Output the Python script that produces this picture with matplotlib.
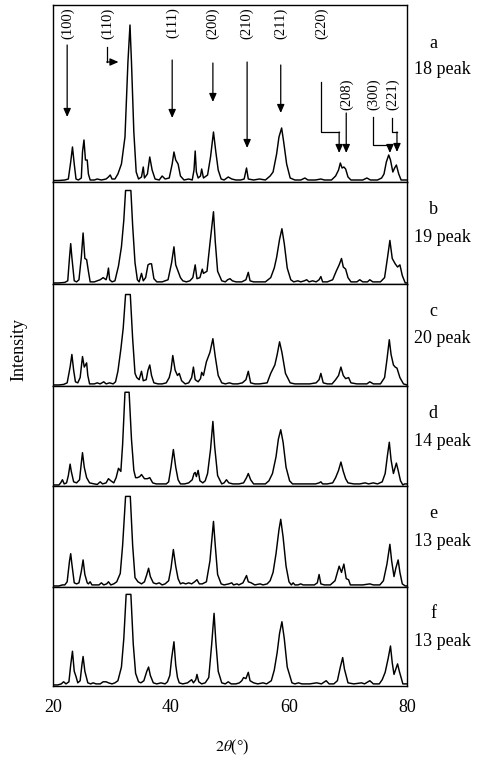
import numpy as np
import matplotlib
matplotlib.use("Agg")
import matplotlib.pyplot as plt

plt.rcParams['font.family'] = ['Liberation Serif', 'DejaVu Serif']
plt.rcParams['mathtext.fontset'] = 'stix'

patron_a = [
    (20.0, 1.5), (21.0, 1.5), (22.0, 2), (22.6, 3), (23.0, 20), (23.3, 35), (23.6, 18),
    (23.9, 3), (24.3, 2), (24.8, 4), (25.0, 30), (25.25, 42), (25.5, 22), (25.8, 22),
    (26.0, 8), (26.3, 2), (27.0, 2), (27.5, 3), (28.2, 2), (29.0, 3), (29.4, 5), (29.7, 7),
    (30.0, 3), (30.5, 3), (31.0, 8), (31.6, 18), (32.2, 45), (32.7, 120), (33.05, 157),
    (33.3, 120), (33.7, 50), (34.1, 10), (34.5, 3), (35.0, 5), (35.3, 15), (35.5, 4),
    (36.0, 8), (36.4, 25), (36.8, 12), (37.3, 3), (38.0, 2), (38.5, 6), (39.0, 3),
    (39.7, 4), (40.2, 18), (40.5, 30), (40.8, 22), (41.2, 18), (41.6, 6), (42.2, 2),
    (43.0, 3), (43.6, 2), (43.9, 12), (44.1, 31), (44.3, 10), (44.6, 4), (45.0, 6),
    (45.2, 13), (45.5, 4), (46.2, 7), (46.7, 25), (47.2, 50), (47.6, 30), (48.0, 12),
    (48.5, 3), (49.0, 2), (49.7, 5), (50.3, 3), (51.0, 2), (51.8, 2), (52.4, 3),
    (52.8, 14), (53.1, 3), (54.0, 2), (55.0, 3), (56.0, 2), (56.8, 6), (57.3, 10),
    (57.9, 28), (58.3, 45), (58.75, 54), (59.1, 40), (59.6, 18), (60.2, 4), (61.0, 2),
    (62.0, 2), (62.7, 4), (63.2, 2), (64.5, 2), (65.4, 3), (66.0, 2), (67.2, 2),
    (67.9, 6), (68.4, 12), (68.7, 19), (69.0, 14), (69.3, 15), (69.6, 13), (70.0, 5),
    (70.5, 2), (71.5, 2), (72.5, 2), (73.2, 4), (73.8, 2), (75.0, 2), (75.7, 4),
    (76.1, 8), (76.5, 20), (76.9, 27), (77.2, 22), (77.6, 10), (77.9, 14), (78.2, 17),
    (78.6, 8), (79.0, 2), (79.6, 2), (80.0, 2),
]

patron_b = [
    (20.0, 1), (21.0, 1), (22.0, 1.5), (22.5, 3), (22.8, 25), (23.0, 38), (23.2, 25),
    (23.6, 3), (24.0, 2), (24.4, 4), (24.8, 25), (25.1, 48), (25.4, 24), (25.7, 23),
    (26.0, 12), (26.3, 2), (27.0, 2), (27.5, 3), (28.0, 4), (28.5, 6), (29.0, 4),
    (29.2, 8), (29.4, 15), (29.6, 4), (30.0, 2), (30.5, 3), (31.1, 17), (31.6, 35),
    (32.0, 60), (32.3, 88), (33.2, 88), (33.5, 55), (33.9, 20), (34.3, 4), (34.6, 2),
    (35.0, 10), (35.3, 3), (35.7, 6), (36.1, 18), (36.4, 19), (36.7, 19), (37.1, 5),
    (37.6, 2), (38.5, 2), (39.0, 3), (39.5, 4), (40.1, 20), (40.5, 35), (40.8, 18),
    (41.2, 12), (41.6, 6), (42.0, 3), (42.6, 2), (43.2, 3), (43.7, 6), (44.1, 18),
    (44.4, 5), (44.9, 6), (45.3, 14), (45.5, 10), (46.1, 12), (46.6, 38), (47.2, 68),
    (47.5, 40), (47.9, 12), (48.6, 3), (49.2, 2), (49.6, 4), (50.0, 5), (50.4, 3),
    (51.0, 2), (52.0, 2), (52.7, 4), (53.1, 11), (53.4, 3), (54.0, 2), (55.0, 2),
    (56.0, 2), (56.9, 6), (57.5, 15), (57.9, 25), (58.4, 42), (58.8, 52), (59.2, 38),
    (59.7, 15), (60.3, 4), (60.8, 2), (61.5, 3), (62.0, 2), (62.6, 3), (63.0, 4),
    (63.4, 2), (64.0, 3), (64.6, 2), (65.1, 4), (65.4, 7), (65.7, 2), (66.5, 2),
    (67.4, 4), (68.0, 12), (68.5, 18), (68.9, 24), (69.2, 16), (69.6, 14), (70.0, 6),
    (70.5, 2), (71.5, 2), (72.0, 4), (72.5, 2), (73.3, 2), (73.7, 4), (74.2, 2),
    (75.5, 2), (76.2, 6), (76.7, 25), (77.1, 41), (77.5, 24), (78.0, 19), (78.4, 16),
    (78.8, 18), (79.2, 8), (79.7, 1), (80.0, 1),
]

patron_c = [
    (20.0, 1), (21.0, 1), (21.8, 1.5), (22.4, 3), (22.9, 18), (23.2, 30), (23.5, 15),
    (23.8, 4), (24.2, 3), (24.6, 8), (25.0, 28), (25.3, 18), (25.7, 22), (25.9, 10),
    (26.2, 2), (27.0, 2), (27.5, 3), (28.0, 2), (28.6, 4), (29.0, 2), (29.6, 3),
    (30.2, 2), (30.6, 4), (31.0, 14), (31.5, 35), (31.9, 55), (32.3, 87), (33.1, 87),
    (33.5, 45), (33.9, 12), (34.2, 8), (34.6, 6), (35.0, 14), (35.3, 5), (35.8, 6),
    (36.1, 15), (36.4, 20), (36.7, 10), (37.1, 3), (37.8, 2), (38.5, 2), (39.2, 3),
    (39.7, 8), (40.0, 15), (40.3, 29), (40.7, 15), (41.1, 10), (41.4, 12), (41.8, 5),
    (42.4, 2), (43.0, 3), (43.5, 8), (43.8, 18), (44.1, 6), (44.6, 4), (45.0, 7),
    (45.2, 13), (45.5, 10), (46.0, 23), (46.6, 32), (47.1, 45), (47.5, 28), (48.0, 10),
    (48.6, 3), (49.2, 2), (49.9, 3), (50.5, 2), (51.3, 2), (52.1, 3), (52.7, 6),
    (53.1, 14), (53.5, 3), (54.2, 2), (55.0, 2), (56.3, 3), (56.9, 12), (57.6, 20),
    (58.0, 30), (58.4, 42), (58.8, 32), (59.4, 12), (60.2, 3), (61.0, 2), (62.0, 2),
    (63.5, 2), (64.6, 3), (65.1, 6), (65.4, 12), (65.8, 3), (66.5, 2), (67.3, 2),
    (67.9, 6), (68.4, 10), (68.8, 18), (69.2, 10), (69.6, 7), (70.1, 8), (70.5, 3),
    (71.5, 2), (72.5, 2), (73.2, 2), (73.7, 4), (74.3, 2), (75.5, 2), (76.2, 8),
    (76.6, 25), (77.0, 44), (77.3, 30), (77.7, 20), (78.0, 18), (78.3, 17), (78.8, 8),
    (79.4, 2), (80.0, 1),
]

patron_d = [
    (20.0, 1), (21.0, 1), (21.3, 3), (21.6, 6), (21.9, 2), (22.3, 3), (22.6, 10),
    (22.9, 21), (23.1, 14), (23.5, 4), (24.0, 3), (24.5, 6), (24.8, 22), (25.0, 32),
    (25.3, 18), (25.7, 8), (26.2, 3), (27.0, 2), (27.5, 1.5), (28.0, 4), (28.4, 2),
    (29.0, 3), (29.4, 7), (29.8, 5), (30.3, 3), (30.7, 8), (31.1, 17), (31.5, 14),
    (31.8, 40), (32.2, 90), (32.9, 90), (33.3, 45), (33.7, 15), (34.0, 8), (34.3, 8),
    (34.7, 9), (35.0, 11), (35.5, 7), (36.0, 7), (36.4, 8), (36.9, 3), (37.5, 2),
    (38.3, 2), (39.2, 2), (39.6, 4), (40.0, 18), (40.4, 35), (40.8, 18), (41.2, 6),
    (41.6, 2), (42.3, 2), (43.0, 3), (43.6, 6), (43.9, 12), (44.1, 13), (44.3, 9),
    (44.6, 15), (44.9, 5), (45.4, 3), (45.8, 5), (46.2, 12), (46.7, 35), (47.1, 62),
    (47.4, 38), (47.9, 10), (48.6, 2), (49.0, 3), (49.4, 6), (49.8, 3), (50.5, 2),
    (51.5, 2), (52.3, 3), (52.8, 8), (53.1, 12), (53.5, 6), (54.0, 2), (55.0, 2),
    (56.0, 2), (56.6, 5), (57.2, 12), (57.8, 28), (58.2, 45), (58.6, 54), (59.0, 42),
    (59.5, 18), (60.1, 5), (60.6, 2), (61.5, 2), (62.5, 2), (63.5, 2), (64.5, 2),
    (65.1, 3), (65.4, 4), (65.7, 2), (66.5, 2), (67.4, 3), (67.9, 8), (68.4, 15),
    (68.8, 23), (69.2, 14), (69.6, 7), (70.0, 3), (71.0, 2), (72.0, 2), (72.9, 3),
    (73.5, 2), (74.3, 3), (75.0, 2), (75.8, 4), (76.3, 12), (76.7, 30), (77.0, 42),
    (77.3, 25), (77.7, 12), (77.9, 16), (78.2, 22), (78.5, 15), (78.9, 5), (79.3, 1),
    (79.6, 2), (80.0, 2),
]

patron_e = [
    (20.0, 1), (21.0, 1), (21.6, 2), (22.0, 2), (22.4, 5), (22.8, 25), (23.0, 32),
    (23.2, 22), (23.6, 4), (24.0, 3), (24.4, 4), (24.8, 15), (25.1, 26), (25.4, 12),
    (25.8, 4), (26.0, 3), (26.3, 5), (26.6, 2), (27.3, 2), (27.8, 2), (28.2, 4),
    (28.6, 2), (29.1, 3), (29.4, 5), (29.8, 2), (30.3, 3), (30.8, 5), (31.4, 13),
    (31.8, 40), (32.3, 87), (33.1, 87), (33.5, 40), (33.9, 9), (34.4, 5), (35.0, 3),
    (35.5, 5), (35.9, 12), (36.2, 18), (36.5, 10), (37.0, 4), (37.5, 3), (38.0, 4),
    (38.5, 2), (39.0, 3), (39.6, 6), (40.0, 18), (40.4, 36), (40.8, 20), (41.2, 8),
    (41.6, 3), (42.0, 4), (42.5, 3), (43.0, 4), (43.5, 3), (44.0, 5), (44.4, 7),
    (44.8, 3), (45.3, 3), (46.0, 5), (46.6, 25), (47.2, 63), (47.5, 40), (47.9, 12),
    (48.5, 3), (49.0, 2), (49.8, 3), (50.3, 4), (50.6, 2), (51.2, 3), (51.5, 2),
    (52.2, 4), (52.8, 11), (53.1, 5), (53.6, 4), (54.2, 2), (55.1, 3), (55.6, 2),
    (56.3, 3), (56.8, 6), (57.3, 14), (57.8, 32), (58.3, 55), (58.6, 65), (59.0, 48),
    (59.5, 20), (60.0, 5), (60.4, 2), (60.7, 4), (61.0, 2), (61.5, 2), (62.0, 3),
    (62.4, 2), (63.5, 2), (64.3, 2), (64.8, 4), (65.1, 12), (65.4, 3), (66.0, 2),
    (67.0, 2), (67.8, 6), (68.2, 14), (68.5, 20), (68.9, 14), (69.3, 22), (69.7, 8),
    (70.1, 7), (70.4, 2), (71.5, 2), (72.5, 2), (73.7, 3), (74.3, 2), (75.4, 2),
    (76.0, 6), (76.6, 22), (77.1, 41), (77.4, 25), (77.8, 10), (78.1, 18), (78.5, 26),
    (78.8, 14), (79.2, 3), (79.7, 1), (80.0, 1),
]

patron_f = [
    (20.0, 1), (20.8, 1), (21.4, 2), (21.8, 4), (22.2, 2), (22.7, 4), (23.0, 20),
    (23.3, 33), (23.6, 14), (23.9, 9), (24.2, 3), (24.6, 5), (24.9, 20), (25.1, 28),
    (25.4, 14), (25.9, 3), (26.4, 2), (26.8, 3), (27.3, 2), (28.0, 2), (28.5, 4),
    (29.0, 4), (29.4, 3), (30.0, 2), (30.5, 3), (31.0, 5), (31.6, 18), (32.0, 45),
    (32.4, 87), (33.2, 87), (33.6, 40), (34.0, 12), (34.5, 4), (34.9, 3), (35.4, 5),
    (35.9, 14), (36.2, 18), (36.5, 10), (37.0, 3), (37.6, 2), (38.3, 3), (39.0, 2),
    (39.4, 4), (39.8, 10), (40.1, 26), (40.5, 42), (40.8, 20), (41.1, 8), (41.4, 3),
    (42.0, 2), (42.8, 3), (43.5, 6), (43.8, 3), (44.2, 6), (44.4, 11), (44.7, 4),
    (45.2, 2), (45.8, 3), (46.4, 8), (46.9, 40), (47.3, 69), (47.6, 42), (48.0, 14),
    (48.6, 3), (49.2, 2), (49.7, 4), (50.2, 2), (51.0, 2), (51.6, 3), (52.0, 5),
    (52.3, 8), (52.7, 7), (53.1, 13), (53.4, 5), (54.0, 3), (54.7, 2), (55.6, 3),
    (56.2, 2), (57.0, 5), (57.5, 15), (58.0, 32), (58.4, 50), (58.8, 61), (59.2, 45),
    (59.7, 18), (60.5, 3), (61.0, 2), (61.6, 3), (62.2, 2), (63.5, 2), (64.7, 3),
    (65.5, 2), (66.3, 5), (66.8, 2), (67.6, 2), (68.2, 5), (68.7, 18), (69.1, 27),
    (69.4, 16), (70.0, 3), (71.0, 2), (72.3, 3), (72.8, 2), (73.7, 5), (74.3, 2),
    (75.3, 2), (75.8, 6), (76.3, 13), (76.8, 26), (77.2, 38), (77.5, 22), (77.8, 11),
    (78.1, 16), (78.4, 21), (78.7, 14), (79.0, 8), (79.3, 2), (80.0, 2),
]

patrones = [patron_a, patron_b, patron_c, patron_d, patron_e, patron_f]
letras = ['a', 'b', 'c', 'd', 'e', 'f']
n_picos = [18, 19, 20, 14, 13, 13]
altura_max = [177, 96, 97, 96, 97, 94]   # escala vertical de cada panel

# Indices de Miller y posicion 2theta de su etiqueta en el panel a
hkl = ['(100)', '(110)', '(111)', '(200)', '(210)', '(211)', '(220)', '(208)', '(300)', '(221)']
hkl_2theta = [22.4, 29.2, 40.2, 47.1, 52.9, 58.6, 65.6, 69.8, 74.3, 77.6]

ticks_x = [20, 40, 60, 80]

# Geometria de la figura (pixeles)
W, H = 478, 758
x0_px, x1_px = 53, 407
bordes = [5, 182, 284, 386, 486, 587, 686]

fig = plt.figure(figsize=(W / 100, H / 100), dpi=100)
ejes = []
for i in range(6):
    top, bot = bordes[i], bordes[i + 1]
    ax = fig.add_axes([x0_px / W, 1 - bot / H, (x1_px - x0_px) / W, (bot - top) / H])
    tt, ii = np.array(patrones[i]).T
    ax.plot(tt, ii, color='black', lw=1.05)
    ax.set_xlim(20, 80)
    ax.set_ylim(0, altura_max[i])
    ax.set_yticks([])
    for s in ax.spines.values():
        s.set_linewidth(1.0)
    if i < 5:
        ax.set_xticks([])
    else:
        ax.set_xticks(ticks_x)
        ax.tick_params(axis='x', length=0, pad=9, labelsize=13)
    # etiquetas a la derecha
    fig.text(433 / W, 1 - (43 if i == 0 else top + 27) / H, letras[i],
             ha='center', va='center', fontsize=13)
    fig.text(442 / W, 1 - (70 if i == 0 else top + 55) / H, f'{n_picos[i]} peak',
             ha='center', va='center', fontsize=13)
    ejes.append(ax)

ax = ejes[0]
for lab, t in zip(hkl, hkl_2theta):
    yl = 88 if lab in ('(208)', '(300)', '(221)') else 159
    ax.text(t, yl, lab, rotation=90, ha='center', va='center', fontsize=10.5)

flecha = dict(arrowstyle='-|>,head_length=0.5,head_width=0.22', color='black',
              lw=0.9, shrinkA=0, shrinkB=0)

def flecha_quebrada(ax, xs, ys):
    ax.plot(xs[:-1], ys[:-1], color='black', lw=0.9)
    ax.annotate('', xy=(xs[-1], ys[-1]), xytext=(xs[-2], ys[-2]), arrowprops=flecha)

flecha_quebrada(ax, [22.4, 22.4], [137, 65])
flecha_quebrada(ax, [29.1, 29.1, 31.1], [135, 120, 120])
flecha_quebrada(ax, [40.2, 40.2], [122, 64])
flecha_quebrada(ax, [47.1, 47.1], [119, 80])
flecha_quebrada(ax, [52.9, 52.9], [120, 34])
flecha_quebrada(ax, [58.6, 58.6], [117, 69])
flecha_quebrada(ax, [65.5, 65.5, 68.5, 68.5], [100, 50, 50, 29])
flecha_quebrada(ax, [69.7, 69.7], [69, 29])
flecha_quebrada(ax, [74.2, 74.2, 77.1, 77.1], [65, 37, 37, 29])
flecha_quebrada(ax, [77.4, 77.4, 78.3, 78.3], [64, 50, 50, 30])

fig.text(19 / W, 1 - 350 / H, 'Intensity', rotation=90, ha='center', va='center', fontsize=13)
fig.text(232 / W, 1 - 747 / H, r'$2\theta$(°)', ha='center', va='center', fontsize=11.5)

fig.savefig('out.png', dpi=100)
